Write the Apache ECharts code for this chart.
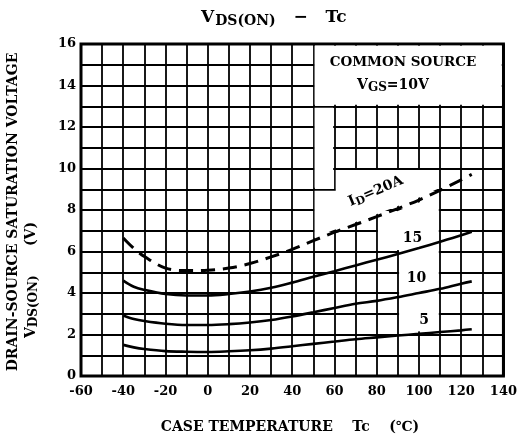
<!DOCTYPE html>
<html>
<head>
<meta charset="utf-8">
<script src="https://cdn.jsdelivr.net/npm/echarts@6/dist/echarts.min.js"></script>
<style>
html,body{margin:0;padding:0;background:#fff;}
#chart{width:520px;height:441px;}
</style>
</head>
<body>
<div id="chart"></div>
<script>
// ---- data ----
const temps = [-40, -35, -30, -20, -10, 0, 10, 20, 30, 40, 50, 60, 70, 80, 90, 100, 110, 120, 125];
const id20 = [6.65, 6.15, 5.76, 5.2, 5.08, 5.1, 5.2, 5.42, 5.74, 6.1, 6.52, 6.93, 7.3, 7.68, 8.07, 8.48, 8.95, 9.45, 9.72];
const id15 = [4.6, 4.3, 4.15, 3.95, 3.88, 3.88, 3.95, 4.07, 4.25, 4.5, 4.78, 5.05, 5.33, 5.6, 5.88, 6.17, 6.47, 6.78, 6.95];
const id10 = [2.92, 2.75, 2.65, 2.52, 2.46, 2.46, 2.5, 2.58, 2.7, 2.87, 3.07, 3.28, 3.48, 3.62, 3.8, 4.0, 4.2, 4.45, 4.56];
const id5  = [1.5, 1.38, 1.3, 1.2, 1.17, 1.16, 1.19, 1.24, 1.32, 1.43, 1.55, 1.66, 1.77, 1.86, 1.95, 2.03, 2.12, 2.2, 2.25];
const curveLabels = ['I{s|D}=20A', '15', '10', '5'];
const xMin = -60, xMax = 140, yMin = 0, yMax = 16;

const FONT = 'DejaVu Serif';

function pairs(ys) { return temps.map((t, i) => [t, ys[i]]); }
function interp(ys, t) {
  for (let i = 0; i < temps.length - 1; i++) {
    if (t >= temps[i] && t <= temps[i + 1]) {
      const f = (t - temps[i]) / (temps[i + 1] - temps[i]);
      return ys[i] + f * (ys[i + 1] - ys[i]);
    }
  }
  return ys[ys.length - 1];
}
function along(ys, t0, t1, off) {
  const pts = [];
  const n = Math.max(2, Math.round(Math.abs(t1 - t0) / 2));
  for (let k = 0; k <= n; k++) {
    const t = t0 + (t1 - t0) * k / n;
    pts.push([t, interp(ys, t) + off]);
  }
  return pts;
}
function rect(x0, y0, x1, y1) { return [[x0, y0], [x1, y0], [x1, y1], [x0, y1]]; }

// white label-background areas (gridlines are blanked there in the reference)
const dx = 0.6, dy = 0.07, g = 0.12;
const blankAreas = [
  rect(50 + dx, 13 + dy, 140 - 0.8, 16 - 0.09),
  rect(50 + dx, 9 + dy, 60 - dx, 13 - dy),
  [].concat(
    along(id20, 50 + dx, 110 - dx, g),
    [[110 - dx, 10 - dy], [60 + dx, 10 - dy], [60 + dx, 9 - dy], [50 + dx, 9 - dy]]
  ),
  [].concat(
    along(id20, 80 + dx, 110 - dx, -g),
    along(id5, 110 - dx, 90 + dx, g),
    [[90 + dx, 6 + dy], [80 + dx, 6 + dy]]
  )
];

const subRich = { s: { fontFamily: FONT, fontSize: 11, fontWeight: 'bold', color: '#000', padding: [6, 0, 0, 0] } };

const chart = echarts.init(document.getElementById('chart'), null, { renderer: 'canvas' });

const lineBase = {
  type: 'line', showSymbol: false, smooth: 0.35, z: 3,
  silent: true
};
function labelPoint(coord, text, rotate) {
  return {
    symbol: 'circle', symbolSize: 1, silent: true,
    itemStyle: { color: 'rgba(0,0,0,0)' },
    data: [{
      coord: coord,
      label: {
        show: true, position: 'inside', formatter: text, rotate: rotate || 0,
        fontFamily: FONT, fontSize: 14, fontWeight: 'bold', color: '#000',
        rich: subRich
      }
    }]
  };
}

chart.setOption({
  backgroundColor: '#fff',
  animation: false,
  title: {
    text: 'V{s|DS(ON)}   −   Tc',
    left: 196, top: 2,
    textStyle: {
      fontFamily: FONT, fontSize: 17, fontWeight: 'bold', color: '#000',
      rich: { s: { fontFamily: FONT, fontSize: 14, fontWeight: 'bold', color: '#000', padding: [7, 0, 0, 1] } }
    }
  },
  grid: {
    left: 81, right: 12, top: 44, bottom: 65,
    show: true, borderColor: '#000', borderWidth: 3, backgroundColor: 'rgba(0,0,0,0)'
  },
  xAxis: {
    type: 'value', min: xMin, max: xMax, interval: 10,
    axisLine: { show: false }, axisTick: { show: false },
    splitLine: { show: true, lineStyle: { color: '#000', width: 1.8 } },
    axisLabel: {
      margin: 9, fontFamily: FONT, fontSize: 13, fontWeight: 'bold', color: '#000',
      formatter: v => (v % 20 === 0 ? String(v) : '')
    }
  },
  yAxis: {
    type: 'value', min: yMin, max: yMax, interval: 1,
    axisLine: { show: false }, axisTick: { show: false },
    splitLine: { show: true, lineStyle: { color: '#000', width: 1.8 } },
    axisLabel: {
      margin: 5, fontFamily: FONT, fontSize: 13, fontWeight: 'bold', color: '#000',
      formatter: v => (v % 2 === 0 ? String(v) : '')
    }
  },
  graphic: [
    {
      type: 'text', x: 13, y: 212, rotation: Math.PI / 2,
      style: {
        text: 'DRAIN-SOURCE SATURATION VOLTAGE',
        fontFamily: FONT, fontSize: 14, fontWeight: 'bold', fill: '#000',
        align: 'center', verticalAlign: 'middle'
      }
    },
    {
      type: 'text', x: 31, y: 280, rotation: Math.PI / 2,
      style: {
        text: 'V{s|DS(ON)}      (V)',
        fontFamily: FONT, fontSize: 14, fontWeight: 'bold', fill: '#000',
        align: 'center', verticalAlign: 'middle',
        rich: { s: { fontFamily: FONT, fontSize: 12, fontWeight: 'bold', fill: '#000', padding: [6, 0, 0, 0] } }
      }
    },
    {
      type: 'text', x: 290, y: 427,
      style: {
        text: 'CASE TEMPERATURE    Tc    (℃)',
        fontFamily: FONT, fontSize: 14, fontWeight: 'bold', fill: '#000',
        align: 'center', verticalAlign: 'middle'
      }
    },
    {
      type: 'text', x: 403, y: 62, z: 10,
      style: {
        text: 'COMMON SOURCE',
        fontFamily: FONT, fontSize: 13.5, fontWeight: 'bold', fill: '#000',
        align: 'center', verticalAlign: 'middle'
      }
    },
    {
      type: 'text', x: 393, y: 85, z: 10,
      style: {
        text: 'V{s|GS}=10V',
        fontFamily: FONT, fontSize: 14, fontWeight: 'bold', fill: '#000',
        align: 'center', verticalAlign: 'middle',
        rich: { s: { fontFamily: FONT, fontSize: 12, fontWeight: 'bold', fill: '#000', padding: [5, 0, 0, 0] } }
      }
    }
  ],
  series: [
    {
      type: 'custom', z: 1, silent: true, clip: false,
      data: blankAreas.map((_, i) => [i, 0]),
      renderItem: function (params, api) {
        const pts = blankAreas[params.dataIndex].map(p => api.coord(p));
        return { type: 'polygon', shape: { points: pts }, style: { fill: '#fff' } };
      }
    },
    Object.assign({}, lineBase, {
      name: 'ID=20A', data: pairs(id20),
      lineStyle: { color: '#000', width: 3, type: [14, 8] },
      markPoint: labelPoint([79.6, 8.9], curveLabels[0], 23)
    }),
    Object.assign({}, lineBase, {
      name: '15', data: pairs(id15),
      lineStyle: { color: '#000', width: 2.6 },
      markPoint: labelPoint([97, 6.65], curveLabels[1])
    }),
    Object.assign({}, lineBase, {
      name: '10', data: pairs(id10),
      lineStyle: { color: '#000', width: 2.6 },
      markPoint: labelPoint([98.8, 4.72], curveLabels[2])
    }),
    Object.assign({}, lineBase, {
      name: '5', data: pairs(id5),
      lineStyle: { color: '#000', width: 2.6 },
      markPoint: labelPoint([102.5, 2.7], curveLabels[3])
    })
  ]
});
</script>
</body>
</html>
